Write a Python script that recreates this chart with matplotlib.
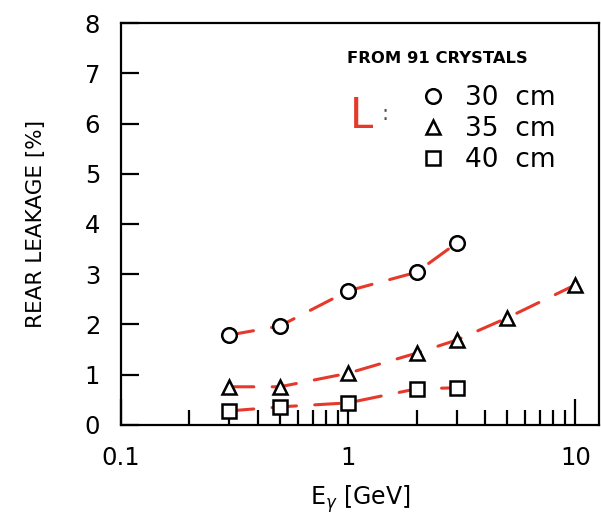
import matplotlib
matplotlib.use("Agg")
import matplotlib.pyplot as plt
from matplotlib.ticker import LogLocator, NullFormatter, FixedLocator, FixedFormatter

# energies [GeV] and rear leakage [%]
e_30 = [0.3, 0.5, 1, 2, 3]
leak_30 = [1.79, 1.97, 2.67, 3.04, 3.62]

e_35 = [0.3, 0.5, 1, 2, 3, 5, 10]
leak_35 = [0.76, 0.76, 1.03, 1.43, 1.69, 2.13, 2.79]

e_40 = [0.3, 0.5, 1, 2, 3]
leak_40 = [0.28, 0.36, 0.44, 0.72, 0.74]

series = [
    ("30  cm", e_30, leak_30, "o"),
    ("35  cm", e_35, leak_35, "^"),
    ("40  cm", e_40, leak_40, "s"),
]

x_major = [0.1, 1, 10]
x_major_labels = ["0.1", "1", "10"]
y_ticks = [0, 1, 2, 3, 4, 5, 6, 7, 8]

red = "#e5392c"

fig = plt.figure(figsize=(6.01, 5.15), dpi=100)
ax = fig.add_axes([0.2013, 0.1748, 0.7954, 0.7805])

handles = []
for label, x, y, m in series:
    # hand-drawn red dashed trend
    ax.plot(x, y, color=red, lw=2.2, linestyle=(0, (8, 6)), zorder=2,
            dash_capstyle="round")
    h, = ax.plot(x, y, linestyle="none", marker=m, ms=10.5 if m != "s" else 9.5,
                 mfc="white", mec="black", mew=1.8, zorder=3, label=label)
    handles.append(h)

ax.set_xscale("log")
ax.set_xlim(0.1, 12.7)
ax.set_ylim(0, 8)

ax.xaxis.set_major_locator(FixedLocator(x_major))
ax.xaxis.set_major_formatter(FixedFormatter(x_major_labels))
ax.xaxis.set_minor_locator(LogLocator(base=10, subs=range(2, 10)))
ax.xaxis.set_minor_formatter(NullFormatter())
ax.set_yticks(y_ticks)

ax.tick_params(axis="x", which="major", direction="in", length=19, width=1.6,
               labelsize=17.5, pad=15, top=False)
ax.tick_params(axis="x", which="minor", direction="in", length=11, width=1.6,
               top=False)
ax.tick_params(axis="y", which="major", direction="in", length=13, width=1.6,
               labelsize=17.5, pad=15, right=False)
ax.tick_params(axis="y", which="minor", left=False, right=False)

for s in ax.spines.values():
    s.set_linewidth(1.6)

ax.set_xlabel("E$_\\gamma$ [GeV]", fontsize=17, labelpad=10)
ax.set_ylabel("REAR LEAKAGE [%]", fontsize=15.5, labelpad=28)

ax.text(0.473, 0.912, "FROM 91 CRYSTALS", transform=ax.transAxes,
        fontsize=11.8, fontweight="bold", ha="left", va="center")
ax.text(0.504, 0.769, "L", transform=ax.transAxes, color=red,
        fontsize=30, ha="center", va="center")
ax.text(0.552, 0.773, ":", transform=ax.transAxes, color="#555555",
        fontsize=15, ha="center", va="center")

ax.legend(handles=handles, loc="upper left", bbox_to_anchor=(0.626, 0.845),
          frameon=False, fontsize=19, handlelength=1.0, handletextpad=0.7,
          labelspacing=0.18, borderpad=0, borderaxespad=0)

fig.savefig("out.png", dpi=100)
